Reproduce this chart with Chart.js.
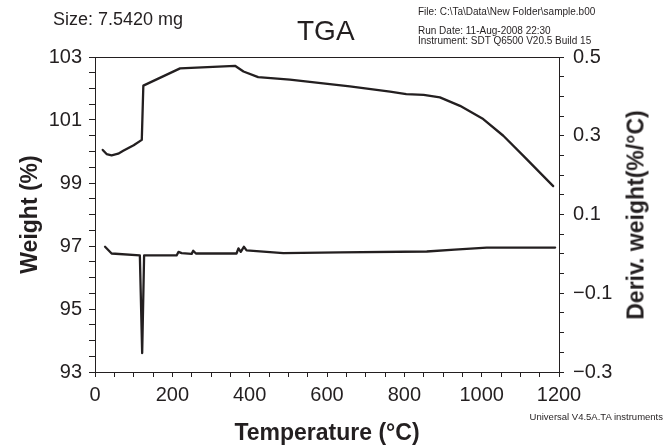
<!DOCTYPE html>
<html><head><meta charset="utf-8">
<script src="https://cdn.jsdelivr.net/npm/chart.js@4"></script>
<style>
body{margin:0;background:#fff;}
#wrap{position:relative;width:671px;height:448px;overflow:hidden;}
canvas{position:absolute;left:0;top:0;}
.t{position:absolute;font-family:'Liberation Sans',Arial,sans-serif;color:#231f20;white-space:nowrap;line-height:1;}
.rt{position:absolute;left:636px;top:215px;transform:translate(-50%,-50%) rotate(-90deg);font-family:'Liberation Sans',Arial,sans-serif;font-weight:bold;font-size:23px;color:#231f20;white-space:nowrap;line-height:1;}
</style></head><body>
<div id="wrap">
<canvas id="c" width="671" height="448"></canvas>
<div class="t" style="left:53px;top:10px;font-size:18px;">Size: 7.5420 mg</div>
<div class="t" style="left:297px;top:17px;font-size:28px;">TGA</div>
<div class="t" style="left:418px;top:7px;font-size:10px;">File: C:\Ta\Data\New Folder\sample.b00</div>
<div class="t" style="left:418px;top:26px;font-size:10px;">Run Date: 11-Aug-2008 22:30</div>
<div class="t" style="left:418px;top:36px;font-size:10px;">Instrument: SDT Q6500 V20.5 Build 15</div>
<div class="t" style="right:8px;top:412px;font-size:9.5px;">Universal V4.5A.TA instruments</div>
<div class="rt">Deriv. weight(%/°C)</div>
</div>
<script>
// Weight (%) curve
const weightTemp = [20, 30, 43, 60, 73, 100, 121, 125, 220, 362, 384, 422, 504, 590, 659, 763, 805, 850, 892, 944, 1004, 1056, 1108, 1185];
const weightPct  = [100.05, 99.92, 99.88, 99.93, 100.02, 100.2, 100.37, 102.09, 102.64, 102.72, 102.54, 102.36, 102.28, 102.16, 102.07, 101.9, 101.82, 101.8, 101.72, 101.45, 101.03, 100.5, 99.86, 98.9];
// Derivative weight (%/°C) curve
const derivTemp  = [26, 43, 116, 122, 127, 211, 216, 224, 250, 254, 261, 366, 371, 377, 385, 392, 487, 634, 858, 930, 1013, 1190];
const derivVal   = [0.018, 0.001, -0.004, -0.252, -0.004, -0.004, 0.005, 0.002, 0.0, 0.008, 0.001, 0.001, 0.014, 0.005, 0.018, 0.009, 0.002, 0.004, 0.006, 0.011, 0.016, 0.016];
// Tick labels
const xTickLabels = [0, 200, 400, 600, 800, 1000, 1200];
const weightTickLabels = [93, 95, 97, 99, 101, 103];
const derivTickLabels = [-0.3, -0.1, 0.1, 0.3, 0.5];

const INK = '#231f20';
const FONT = "'Liberation Sans', Arial, sans-serif";

const topBorder = {
  id: 'topBorder',
  afterDraw(chart) {
    const {ctx, chartArea: a} = chart;
    ctx.save();
    ctx.strokeStyle = INK; ctx.lineWidth = 1;
    ctx.beginPath(); ctx.moveTo(a.left, a.top + 0.5); ctx.lineTo(a.right, a.top + 0.5); ctx.stroke();
    ctx.restore();
  }
};

function near(list, v, eps) { return list.find(d => Math.abs(d - v) < eps); }

new Chart(document.getElementById('c'), {
  type: 'scatter',
  data: {
    datasets: [
      { data: weightTemp.map((t, i) => ({x: t, y: weightPct[i]})), yAxisID: 'y',
        showLine: true, borderColor: INK, borderWidth: 2.3, pointRadius: 0, tension: 0, borderJoinStyle: 'round', borderCapStyle: 'round' },
      { data: derivTemp.map((t, i) => ({x: t, y: derivVal[i]})), yAxisID: 'y2',
        showLine: true, borderColor: INK, borderWidth: 2.3, pointRadius: 0, tension: 0, borderJoinStyle: 'round', borderCapStyle: 'round' }
    ]
  },
  options: {
    responsive: false, animation: false,
    layout: { padding: { top: 57, left: 0, right: 0, bottom: 0 } },
    plugins: { legend: { display: false }, tooltip: { enabled: false } },
    scales: {
      x: {
        type: 'linear', min: 0, max: 1200, position: 'bottom',
        afterFit(s) { s.height = 76; },
        ticks: { stepSize: 50, autoSkip: false, maxRotation: 0, minRotation: 0, padding: 6, color: INK,
          font: { family: FONT, size: 20 },
          callback: v => { const m = near(xTickLabels, v, 1e-6); return m === undefined ? '' : String(m); } },
        grid: { drawOnChartArea: false, drawTicks: true, tickLength: 5, color: INK },
        border: { display: true, color: INK, width: 1 },
        title: { display: true, text: 'Temperature (°C)', color: INK, font: { family: FONT, size: 23, weight: 'bold' }, padding: { top: 0, bottom: 1 } }
      },
      y: {
        type: 'linear', min: 93, max: 103, position: 'left',
        afterFit(s) { s.width = 95; },
        ticks: { stepSize: 0.5, autoSkip: false, padding: 7, color: INK, font: { family: FONT, size: 20 },
          callback: v => { const m = near(weightTickLabels, v, 1e-6); return m === undefined ? '' : String(m); } },
        grid: { drawOnChartArea: false, drawTicks: true, tickLength: 6, color: INK },
        border: { display: true, color: INK, width: 1 },
        title: { display: true, text: 'Weight (%)', color: INK, font: { family: FONT, size: 23, weight: 'bold' }, padding: { top: 17, bottom: 0 } }
      },
      y2: {
        type: 'linear', min: -0.3, max: 0.5, position: 'right',
        afterFit(s) { s.width = 112; },
        ticks: { stepSize: 0.05, autoSkip: false, padding: 9, color: INK, font: { family: FONT, size: 20 },
          callback: v => { const m = near(derivTickLabels, v, 1e-4); return m === undefined ? '' : (m < 0 ? '\u2212' : '') + Math.abs(m).toFixed(1); } },
        grid: { drawOnChartArea: false, drawTicks: true, tickLength: 5, color: INK },
        border: { display: true, color: INK, width: 1 },
        title: { display: false }
      }
    }
  },
  plugins: [topBorder]
});
</script>
</body></html>
